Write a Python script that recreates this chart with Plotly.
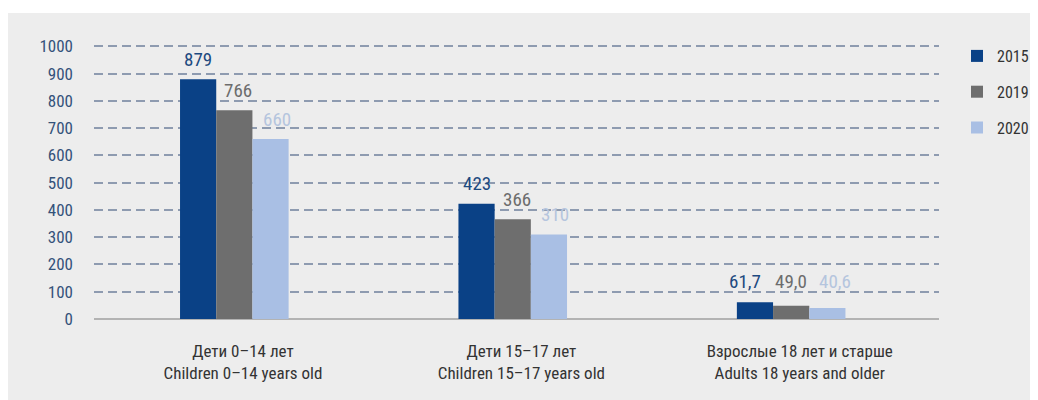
import plotly.graph_objects as go

categories = ["Дети 0–14 лет<br>Children 0–14 years old",
              "Дети 15–17 лет<br>Children 15–17 years old",
              "Взрослые 18 лет и старше<br>Adults 18 years and older"]
years = ["2015", "2019", "2020"]
values_2015 = [879, 423, 61.7]
values_2019 = [766, 366, 49.0]
values_2020 = [660, 310, 40.6]
labels_2015 = ["879", "423", "61,7"]
labels_2019 = ["766", "366", "49,0"]
labels_2020 = ["660", "310", "40,6"]
y_ticks = [0, 100, 200, 300, 400, 500, 600, 700, 800, 900, 1000]

series = [values_2015, values_2019, values_2020]
labels = [labels_2015, labels_2019, labels_2020]
bar_colors = ["#0a4186", "#6e6e6e", "#a9bfe4"]
label_colors = ["#1d4a80", "#6c6c6c", "#b5c5de"]

FONT = "Liberation Sans Narrow, Roboto Condensed, Arial Narrow, Liberation Sans, sans-serif"
W = 0.13
offsets = [-0.226, -0.096, 0.034]
xs = list(range(len(categories)))

fig = go.Figure()
for k in range(3):
    fig.add_trace(go.Bar(
        x=xs, y=series[k], name=years[k], width=W, offset=offsets[k],
        marker=dict(color=bar_colors[k], line=dict(width=0)),
        legendgroup=years[k],
    ))

annotations = []
for k in range(3):
    for i, v in enumerate(series[k]):
        if i == 2:
            yv = max(s[2] for s in series)
            xshift = [-10, 0, 8][k]
            ysh = 21
        else:
            yv = v
            xshift = [0, 4, 6][k]
            ysh = 20
        annotations.append(dict(
            x=i + offsets[k] + W / 2, y=yv, xref="x", yref="y",
            text=labels[k][i], showarrow=False, yshift=ysh, xshift=xshift,
            font=dict(family=FONT, size=19, color=label_colors[k]),
        ))

# figure is placed at an 8px body margin inside the 1038x400 window
FW, FH = 1030, 392
L, R, T, B = 86, 99, 37, 81
PW, PH = FW - L - R, FH - T - B
shapes = [dict(type="rect", xref="paper", yref="paper", layer="below",
               x0=(-4 - L) / PW, x1=(FW + 4 - L) / PW,
               y0=(FH - B - FH - 4) / PH, y1=(FH - B - 5) / PH,
               fillcolor="#ededed", line=dict(width=0))]

fig.update_layout(
    width=FW, height=FH,
    margin=dict(l=L, r=R, t=T, b=B, autoexpand=False),
    paper_bgcolor="white", plot_bgcolor="rgba(0,0,0,0)",
    barmode="overlay",
    showlegend=True,
    legend=dict(xref="container", yref="container",
                x=949 / FW, y=1 - 31 / FH, xanchor="left", yanchor="top",
                font=dict(family=FONT, size=16, color="#333333"),
                tracegroupgap=12, bgcolor="rgba(0,0,0,0)", itemwidth=30),
    annotations=annotations,
    shapes=shapes,
    font=dict(family=FONT),
)
fig.update_xaxes(
    tickmode="array", tickvals=xs, ticktext=categories,
    range=[-0.535, 2.5], showgrid=False, zeroline=False, showline=False,
    ticks="", ticklabelstandoff=20, automargin=False,
    tickfont=dict(family=FONT, size=17, color="#333333"),
)
fig.update_yaxes(
    range=[0, 1005], tickmode="array", tickvals=y_ticks,
    showgrid=True, gridcolor="#8e9bb0", gridwidth=1.5, griddash="9px,5px",
    zeroline=True, zerolinecolor="#b3b3b3", zerolinewidth=1.5,
    showline=False, ticks="", ticklabelstandoff=20, automargin=False,
    tickfont=dict(family=FONT, size=17, color="#34527a"),
)
fig.write_html("out.html", default_width="1030px", default_height="392px")
